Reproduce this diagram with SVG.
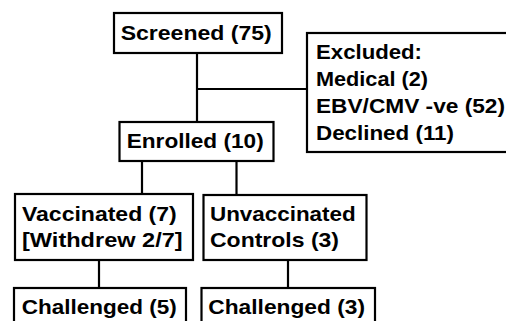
<svg xmlns="http://www.w3.org/2000/svg" width="506" height="321" viewBox="0 0 506 321">
<style>
.box{fill:#fff;stroke:#000;stroke-width:2.2}
.ln{stroke:#000;stroke-width:2.2;fill:none}
text{font-family:"Liberation Sans",Arial,sans-serif;font-weight:bold;font-size:21px;fill:#000}
</style>
<rect width="506" height="321" fill="#fff"/>
<g id="connectors">
<line class="ln" x1="197" y1="53" x2="197" y2="122"/>
<line class="ln" x1="197" y1="89" x2="307" y2="89"/>
<line class="ln" x1="142" y1="161" x2="142" y2="194"/>
<line class="ln" x1="236.5" y1="161" x2="236.5" y2="195"/>
<line class="ln" x1="99" y1="260" x2="99" y2="288"/>
<line class="ln" x1="288" y1="260" x2="288" y2="288"/>
</g>
<g id="screened">
<rect class="box" x="114" y="13" width="168" height="40"/>
<text x="120.7" y="39.5" textLength="151" lengthAdjust="spacingAndGlyphs">Screened (75)</text>
</g>
<g id="excluded">
<rect class="box" x="307" y="33" width="210" height="119"/>
<text x="316" y="59" textLength="106" lengthAdjust="spacingAndGlyphs">Excluded:</text>
<text x="316" y="86" textLength="112" lengthAdjust="spacingAndGlyphs">Medical (2)</text>
<text x="316" y="113" textLength="189" lengthAdjust="spacingAndGlyphs">EBV/CMV -ve (52)</text>
<text x="316" y="140" textLength="138" lengthAdjust="spacingAndGlyphs">Declined (11)</text>
</g>
<g id="enrolled">
<rect class="box" x="119.5" y="122" width="154" height="39"/>
<text x="126.7" y="147.5" textLength="137" lengthAdjust="spacingAndGlyphs">Enrolled (10)</text>
</g>
<g id="vaccinated">
<rect class="box" x="15" y="194" width="178" height="66"/>
<text x="22" y="221" textLength="154.7" lengthAdjust="spacingAndGlyphs">Vaccinated (7)</text>
<text x="22" y="247" textLength="160.7" lengthAdjust="spacingAndGlyphs">[Withdrew 2/7]</text>
</g>
<g id="unvaccinated">
<rect class="box" x="203.5" y="195" width="163" height="65"/>
<text x="210" y="221" textLength="145.7" lengthAdjust="spacingAndGlyphs">Unvaccinated</text>
<text x="210" y="247" textLength="129" lengthAdjust="spacingAndGlyphs">Controls (3)</text>
</g>
<g id="challenged5">
<rect class="box" x="14" y="288" width="172" height="45"/>
<text x="21.7" y="313.5" textLength="155" lengthAdjust="spacingAndGlyphs">Challenged (5)</text>
</g>
<g id="challenged3">
<rect class="box" x="201.5" y="288" width="173.5" height="45"/>
<text x="208.3" y="313.5" textLength="156.7" lengthAdjust="spacingAndGlyphs">Challenged (3)</text>
</g>
</svg>
